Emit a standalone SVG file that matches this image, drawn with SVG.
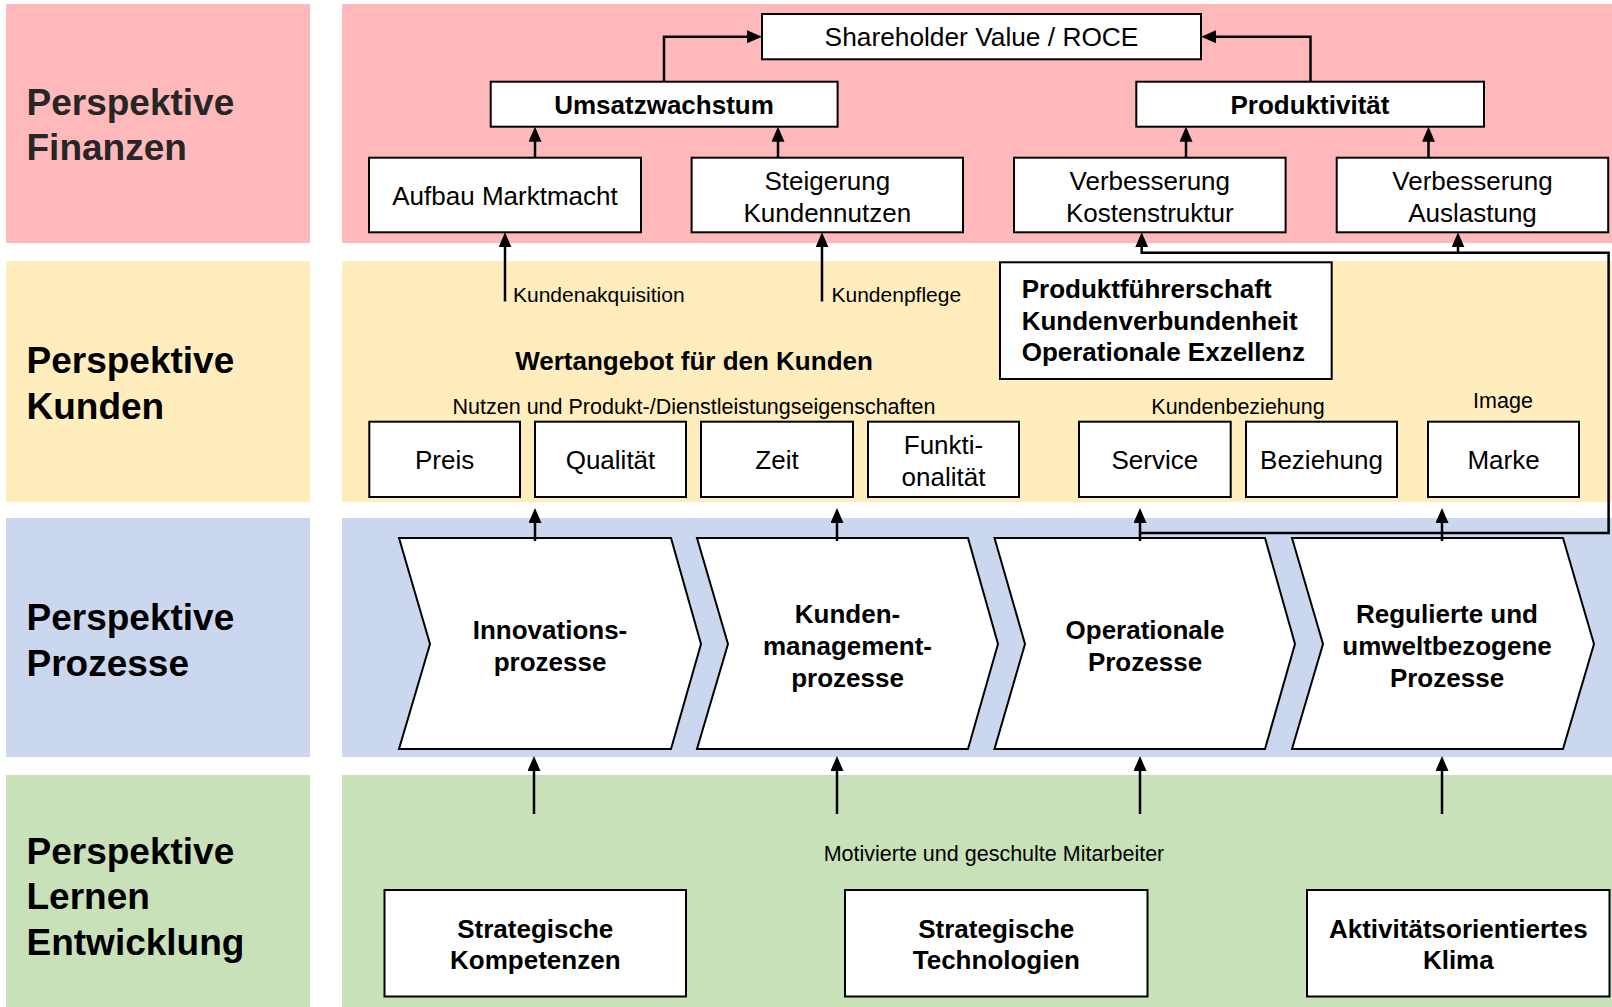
<svg xmlns="http://www.w3.org/2000/svg" width="1612" height="1007" viewBox="0 0 1612 1007">
  <style>
    text { font-family: "Liberation Sans", Arial, Helvetica, sans-serif; fill: #000; }
    .side { font-size: 37px; font-weight: bold; }
    .b { font-size: 26px; font-weight: bold; text-anchor: middle; }
    .r { font-size: 26px; text-anchor: middle; }
    .s { font-size: 21.5px; text-anchor: middle; }
    .box { fill: #fff; stroke: #000; stroke-width: 2; }
    .lnk { fill: none; stroke: #000; stroke-width: 2.5; marker-end: url(#ah); }
  </style>
  <defs>
    <marker id="ah" viewBox="0 0 15 13" refX="7" refY="6.5" markerWidth="15" markerHeight="13" orient="auto" markerUnits="userSpaceOnUse">
      <path d="M0,0 L15,6.5 L0,13 z" fill="#000"/>
    </marker>
  </defs>

  <rect width="1612" height="1007" fill="#fff"/>

  <!-- perspective bands -->
  <g id="bands">
    <rect x="6" y="4" width="304" height="239" fill="#ffb9ba"/>
    <rect x="342" y="4" width="1270" height="239" fill="#ffb9ba"/>
    <rect x="6" y="261" width="304" height="241" fill="#ffedbe"/>
    <rect x="342" y="261" width="1270" height="241" fill="#ffedbe"/>
    <rect x="6" y="518" width="304" height="239" fill="#cbd7ee"/>
    <rect x="342" y="518" width="1270" height="239" fill="#cbd7ee"/>
    <rect x="6" y="775" width="304" height="232" fill="#c9e1b8"/>
    <rect x="342" y="775" width="1270" height="232" fill="#c9e1b8"/>
  </g>

  <g id="labels">
    <text class="side" x="26.5" y="114.5" style="fill:#262626">Perspektive</text>
    <text class="side" x="26.5" y="160" style="fill:#262626">Finanzen</text>
    <text class="side" x="26.5" y="373">Perspektive</text>
    <text class="side" x="26.5" y="419">Kunden</text>
    <text class="side" x="26.5" y="630">Perspektive</text>
    <text class="side" x="26.5" y="675.5">Prozesse</text>
    <text class="side" x="26.5" y="863.5">Perspektive</text>
    <text class="side" x="26.5" y="909">Lernen</text>
    <text class="side" x="26.5" y="954.5">Entwicklung</text>
  </g>

  <!-- finance perspective -->
  <g id="shareholder">
    <rect class="box" x="762" y="14" width="439" height="45.3"/>
    <text class="r" x="981.5" y="46" style="font-size:26.3px">Shareholder Value / ROCE</text>
  </g>
  <g id="umsatzwachstum">
    <rect class="box" x="490.7" y="81.7" width="346.9" height="45"/>
    <text class="b" x="664" y="114">Umsatzwachstum</text>
  </g>
  <g id="produktivitaet">
    <rect class="box" x="1136.3" y="81.7" width="347.7" height="45"/>
    <text class="b" x="1310" y="114">Produktivität</text>
  </g>
  <g id="marktmacht">
    <rect class="box" x="369" y="157.7" width="272" height="74.6"/>
    <text class="r" x="505" y="204.5">Aufbau Marktmacht</text>
  </g>
  <g id="kundennutzen">
    <rect class="box" x="691.6" y="157.7" width="271.4" height="74.6"/>
    <text class="r" x="827.3" y="190">Steigerung</text>
    <text class="r" x="827.3" y="221.5">Kundennutzen</text>
  </g>
  <g id="kostenstruktur">
    <rect class="box" x="1014" y="157.7" width="271.6" height="74.6"/>
    <text class="r" x="1149.8" y="190">Verbesserung</text>
    <text class="r" x="1149.8" y="221.5">Kostenstruktur</text>
  </g>
  <g id="auslastung">
    <rect class="box" x="1336.7" y="157.7" width="271.5" height="74.6"/>
    <text class="r" x="1472.5" y="190">Verbesserung</text>
    <text class="r" x="1472.5" y="221.5">Auslastung</text>
  </g>

  <!-- customer perspective -->
  <g id="strategien">
    <rect class="box" x="1000" y="262.3" width="331.7" height="116.7"/>
    <text x="1021.7" y="298.3" style="font-size:26px;font-weight:bold">Produktführerschaft</text>
    <text x="1021.7" y="330" style="font-size:26px;font-weight:bold">Kundenverbundenheit</text>
    <text x="1021.7" y="361.2" style="font-size:26px;font-weight:bold">Operationale Exzellenz</text>
  </g>
  <g id="kundenlabels">
    <text x="513" y="302" style="font-size:21px">Kundenakquisition</text>
    <text x="831.5" y="302" style="font-size:21px">Kundenpflege</text>
    <text class="b" x="694" y="369.5">Wertangebot für den Kunden</text>
    <text class="s" x="694" y="413.5">Nutzen und Produkt-/Dienstleistungseigenschaften</text>
    <text class="s" x="1238" y="413.5">Kundenbeziehung</text>
    <text class="s" x="1503" y="408">Image</text>
  </g>
  <g id="preis">
    <rect class="box" x="369.3" y="421.7" width="150.7" height="75.3"/>
    <text class="r" x="444.6" y="468.5">Preis</text>
  </g>
  <g id="qualitaet">
    <rect class="box" x="535" y="421.7" width="151" height="75.3"/>
    <text class="r" x="610.5" y="468.5">Qualität</text>
  </g>
  <g id="zeit">
    <rect class="box" x="701" y="421.7" width="152" height="75.3"/>
    <text class="r" x="777" y="468.5">Zeit</text>
  </g>
  <g id="funktionalitaet">
    <rect class="box" x="868" y="421.7" width="151" height="75.3"/>
    <text class="r" x="943.5" y="453.5">Funkti-</text>
    <text class="r" x="943.5" y="485.5">onalität</text>
  </g>
  <g id="service">
    <rect class="box" x="1079" y="421.7" width="151.7" height="75.3"/>
    <text class="r" x="1154.8" y="468.5">Service</text>
  </g>
  <g id="beziehung">
    <rect class="box" x="1246" y="421.7" width="151" height="75.3"/>
    <text class="r" x="1321.5" y="468.5">Beziehung</text>
  </g>
  <g id="marke">
    <rect class="box" x="1428" y="421.7" width="151" height="75.3"/>
    <text class="r" x="1503.5" y="468.5">Marke</text>
  </g>

  <!-- internal process chain -->
  <g id="innovation">
    <path class="box" d="M399,538 H671 L701,644 L671,749 H399 L430,644 Z"/>
    <text class="b" x="550" y="639">Innovations-</text>
    <text class="b" x="550" y="671">prozesse</text>
  </g>
  <g id="kundenmanagement">
    <path class="box" d="M697,538 H968 L998,644 L968,749 H697 L728,644 Z"/>
    <text class="b" x="847.5" y="623">Kunden-</text>
    <text class="b" x="847.5" y="655">management-</text>
    <text class="b" x="847.5" y="687">prozesse</text>
  </g>
  <g id="operational">
    <path class="box" d="M994.5,538 H1265 L1295,644 L1265,749 H994.5 L1025,644 Z"/>
    <text class="b" x="1145" y="639">Operationale</text>
    <text class="b" x="1145" y="671">Prozesse</text>
  </g>
  <g id="reguliert">
    <path class="box" d="M1292,538 H1563 L1594,644 L1563,749 H1292 L1323,644 Z"/>
    <text class="b" x="1447" y="623">Regulierte und</text>
    <text class="b" x="1447" y="655">umweltbezogene</text>
    <text class="b" x="1447" y="687">Prozesse</text>
  </g>

  <!-- learning and growth -->
  <text class="s" x="994" y="861">Motivierte und geschulte Mitarbeiter</text>
  <g id="kompetenzen">
    <rect class="box" x="384.5" y="890" width="301.5" height="106.5"/>
    <text class="b" x="535.3" y="937.5">Strategische</text>
    <text class="b" x="535.3" y="969">Kompetenzen</text>
  </g>
  <g id="technologien">
    <rect class="box" x="845" y="890" width="302.5" height="106.5"/>
    <text class="b" x="996.3" y="937.5">Strategische</text>
    <text class="b" x="996.3" y="969">Technologien</text>
  </g>
  <g id="klima">
    <rect class="box" x="1307" y="890" width="302.5" height="106.5"/>
    <text class="b" x="1458.3" y="937.5">Aktivitätsorientiertes</text>
    <text class="b" x="1458.3" y="969">Klima</text>
  </g>

  <!-- connectors: arrowhead tips extend 8px past each path end -->
  <g id="connectors">
    <path class="lnk" d="M664,81.7 V36.7 H754"/>
    <path class="lnk" d="M1310.5,81.7 V36.7 H1209"/>
    <path class="lnk" d="M535,157.7 V134.7"/>
    <path class="lnk" d="M778,157.7 V134.7"/>
    <path class="lnk" d="M1186,157.7 V134.7"/>
    <path class="lnk" d="M1428.5,157.7 V134.7"/>
    <path class="lnk" d="M505,301.5 V240.3"/>
    <path class="lnk" d="M822,301.5 V240.3"/>
    <path class="lnk" d="M1140,533 H1608.6 V252.7 H1141.7 V240.3"/>
    <path class="lnk" d="M1458,252.7 V240.3"/>
    <path class="lnk" d="M535,541 V516"/>
    <path class="lnk" d="M837,541 V516"/>
    <path class="lnk" d="M1140,541 V516"/>
    <path class="lnk" d="M1442,541 V516"/>
    <path class="lnk" d="M534,814 V764"/>
    <path class="lnk" d="M837,814 V764"/>
    <path class="lnk" d="M1140,814 V764"/>
    <path class="lnk" d="M1442,814 V764"/>
  </g>
</svg>
